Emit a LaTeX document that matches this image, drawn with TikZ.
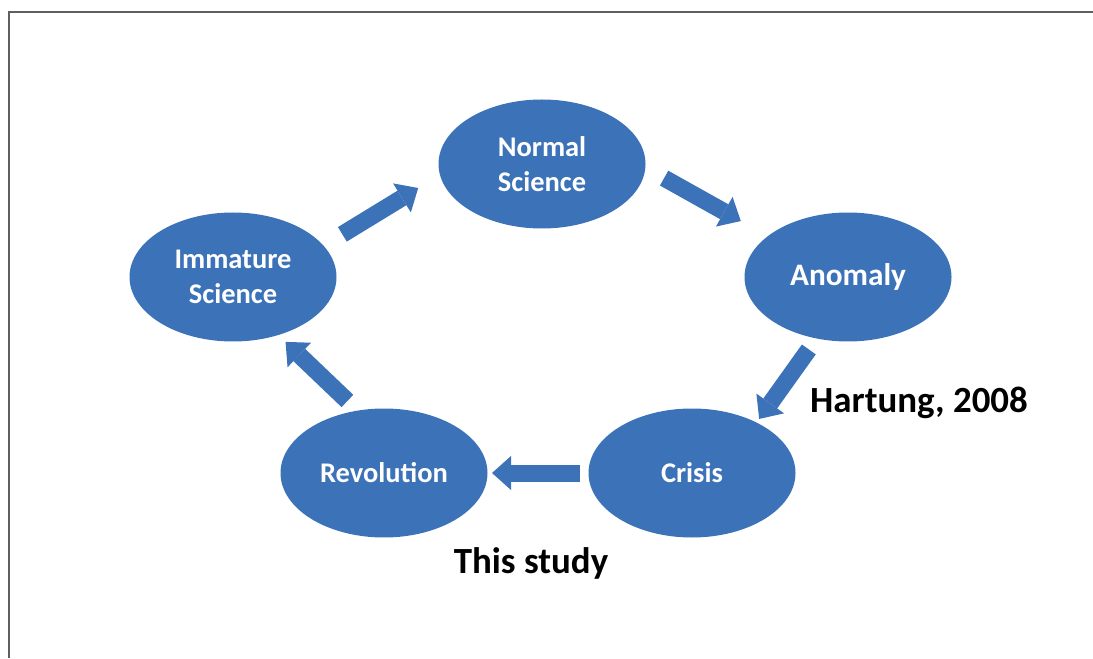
\documentclass[tikz,border=0pt]{standalone}
\usepackage{fontspec}
\setmainfont{Carlito}
\usetikzlibrary{shapes.geometric,arrows.meta,positioning}
\definecolor{cycleblue}{RGB}{60,114,184}
\definecolor{framegray}{RGB}{95,95,95}

\begin{document}
\begin{tikzpicture}[
    stage/.style={ellipse, fill=cycleblue, text=white, minimum width=4.14cm, minimum height=2.58cm, inner sep=0pt, outer sep=0pt, align=center, font=\fontsize{16.2}{19.8}\selectfont\bfseries},
    bigarrow/.style={draw=cycleblue, line width=0.34cm, -{Triangle[width=0.68cm, length=0.38cm, line width=0pt]}},
    note/.style={font=\fontsize{21}{25}\selectfont\bfseries}
]
    \useasboundingbox (0,0) rectangle (21.86,13.16);
    \draw[framegray, line width=0.85pt] (0.18,0) -- (0.18,12.92) -- (21.86,12.92);

    % Stages
    \node[stage] (normal) at (10.84,9.88) {Normal\\Science};
    \node[stage, font=\fontsize{17.8}{21}\selectfont\bfseries] (anomaly) at (16.96,7.62) {Anomaly};
    \node[stage] (crisis) at (13.84,3.70) {Crisis};
    \node[stage] (revolution) at (7.68,3.70) {Revolution};
    \node[stage] (immature) at (4.66,7.62) {Immature\\Science};

    % Labels
    \node[note] (hartung) at (18.38,5.11) {Hartung, 2008};
    \node[note] (study) at (10.62,1.89) {This study};

    % Arrows
    \draw[bigarrow, shorten <=0.44cm, shorten >=0.51cm] (immature.19) -- (normal.186.5);
    \draw[bigarrow, shorten <=0.43cm, shorten >=0.62cm] (normal.-2) -- (anomaly.153.2);
    \draw[bigarrow, shorten <=0.27cm, shorten >=0.09cm] (anomaly.243.9) -- (crisis.38);
    \draw[bigarrow, shorten <=0.18cm, shorten >=0.09cm] (crisis) -- (revolution);
    \draw[bigarrow, shorten <=0.28cm, shorten >=0.20cm] (revolution.113) -- (immature.308.9);

\end{tikzpicture}
\end{document}
